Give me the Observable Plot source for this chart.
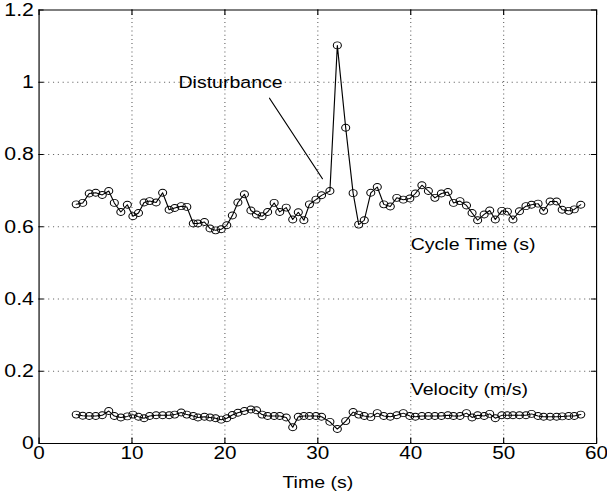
<!DOCTYPE html>
<html><head><meta charset="utf-8">
<script src="https://cdn.jsdelivr.net/npm/d3@7"></script>
<script src="https://cdn.jsdelivr.net/npm/@observablehq/plot@0.6"></script>
<style>html,body{margin:0;padding:0;background:#fff} svg{display:block}</style>
</head><body><div id="chart"></div>
<script>
// ---- data ----
const time = [4.0,4.7,5.4,6.1,6.8,7.5,8.1,8.8,9.5,10.1,10.7,11.3,11.9,12.6,13.3,14.0,14.6,15.3,15.9,16.6,
  17.1,17.8,18.4,19.0,19.6,20.2,20.8,21.4,22.1,22.8,23.4,24.0,24.6,25.3,25.9,26.6,27.3,27.9,28.5,29.1,
  29.8,30.4,31.3,32.1,33.0,33.8,34.4,35.0,35.7,36.4,37.1,37.8,38.5,39.2,39.9,40.5,41.2,41.9,42.6,43.3,
  44.0,44.6,45.3,46.0,46.6,47.2,47.9,48.5,49.1,49.8,50.4,51.0,51.7,52.4,53.0,53.7,54.3,55.0,55.7,56.3,
  57.0,57.6,58.3];
const cycleTime = [0.662,0.666,0.692,0.694,0.688,0.699,0.666,0.641,0.661,0.629,0.638,0.667,0.671,0.667,0.694,0.647,0.652,0.657,0.655,0.609,
  0.609,0.613,0.595,0.590,0.593,0.604,0.631,0.667,0.690,0.645,0.634,0.629,0.641,0.666,0.641,0.653,0.620,0.640,0.618,0.662,
  0.675,0.687,0.699,1.102,0.874,0.693,0.606,0.618,0.694,0.710,0.662,0.656,0.680,0.675,0.678,0.692,0.715,0.699,0.680,0.692,
  0.696,0.666,0.671,0.659,0.638,0.618,0.634,0.645,0.620,0.644,0.642,0.620,0.643,0.657,0.661,0.664,0.644,0.670,0.670,0.647,
  0.644,0.648,0.661];
const velocity = [0.080,0.077,0.076,0.076,0.078,0.090,0.076,0.072,0.075,0.080,0.074,0.070,0.076,0.078,0.078,0.078,0.080,0.086,0.080,0.076,
  0.072,0.074,0.072,0.070,0.066,0.070,0.079,0.085,0.090,0.094,0.092,0.080,0.076,0.076,0.076,0.072,0.045,0.074,0.076,0.076,
  0.076,0.074,0.060,0.040,0.062,0.087,0.080,0.076,0.073,0.084,0.076,0.074,0.078,0.084,0.076,0.074,0.076,0.076,0.076,0.076,
  0.078,0.076,0.076,0.084,0.072,0.078,0.076,0.082,0.070,0.078,0.078,0.078,0.078,0.078,0.082,0.076,0.074,0.074,0.074,0.075,
  0.076,0.076,0.080];
const xTicks = [0,10,20,30,40,50,60];
const yTicks = [0,0.2,0.4,0.6,0.8,1,1.2];
const xTitle = "Time (s)";
const noteText = ["Disturbance","Cycle Time (s)","Velocity (m/s)"];
const noteX = [15.0, 40.0, 40.0];
const noteY = [1.0, 0.550, 0.150];
const pointerX = [24.8, 30.5];
const pointerY = [0.956, 0.733];

// ---- build ----
const W = 607, H = 494, S = 1.15;       // reference glyphs are stretched horizontally
const Wi = Math.round(W / S);
const series = time.map((t, i) => ({t, cycle: cycleTime[i], vel: velocity[i]}));
const notes = noteText.map((text, i) => ({text, x: noteX[i], y: noteY[i]}));
const pointer = pointerX.map((x, i) => ({x, y: pointerY[i]}));
const dotted = {stroke: "#000", strokeOpacity: 0.6, strokeWidth: 1, strokeDasharray: "1,3.2"};

const svg = Plot.plot({
  width: Wi, height: H,
  marginLeft: 38.5 / S, marginRight: 11 / S, marginTop: 9.5, marginBottom: 51,
  style: {fontFamily: "'Liberation Sans', Arial, Helvetica, sans-serif", fontSize: "17px", background: "#fff", color: "#000", overflow: "visible"},
  x: {domain: [0, 60]},
  y: {domain: [0, 1.2]},
  marks: [
    Plot.gridX(xTicks.slice(1, -1), dotted),
    Plot.gridY(yTicks.slice(1, -1), dotted),
    Plot.ruleX(xTicks, {y1: 0, y2: 0.015, stroke: "#000"}),
    Plot.ruleX(xTicks, {y1: 1.2, y2: 1.185, stroke: "#000"}),
    Plot.ruleY(yTicks, {x1: 0, x2: 0.55, stroke: "#000"}),
    Plot.ruleY(yTicks, {x1: 60, x2: 59.45, stroke: "#000"}),
    Plot.axisX(xTicks, {tickSize: 0, tickPadding: 2.5, label: null, tickFormat: d => String(d), fontSize: 18}),
    Plot.axisY(yTicks, {tickSize: 0, tickPadding: 4.5, label: null, tickFormat: d => String(d), fontSize: 18.5}),
    Plot.text([xTitle], {x: 30, y: 0, text: d => d, dy: 39, lineAnchor: "middle", fontSize: 17}),
    Plot.frame({stroke: "#000", strokeWidth: 1}),
    Plot.line(series, {x: "t", y: "cycle", stroke: "#000", strokeWidth: 1}),
    Plot.dot(series, {x: "t", y: "cycle", r: 3.5, stroke: "#000", fill: "none", strokeWidth: 0.9}),
    Plot.line(series, {x: "t", y: "vel", stroke: "#000", strokeWidth: 1}),
    Plot.dot(series, {x: "t", y: "vel", r: 3.5, stroke: "#000", fill: "none", strokeWidth: 0.9}),
    Plot.line(pointer, {x: "x", y: "y", stroke: "#000", strokeWidth: 1}),
    Plot.text(notes, {x: "x", y: "y", text: "text", textAnchor: "start", lineAnchor: "middle", fontSize: 17})
  ]
});
svg.setAttribute("viewBox", `0 0 ${Wi} ${H}`);
svg.setAttribute("preserveAspectRatio", "none");
svg.setAttribute("width", W);
svg.setAttribute("height", H);
svg.style.width = W + "px";
svg.style.height = H + "px";
svg.style.maxWidth = "none";
document.getElementById("chart").appendChild(svg);
</script>
</body></html>
